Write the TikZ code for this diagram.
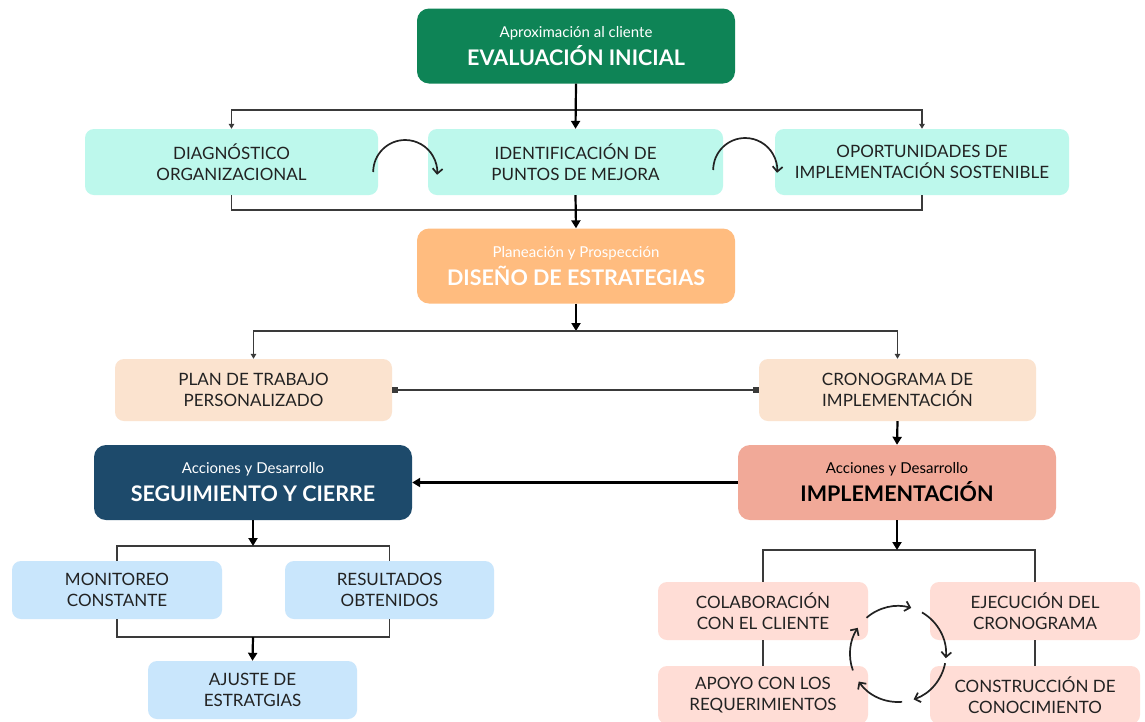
\documentclass[tikz,border=0pt]{standalone}
\usepackage{fontspec}
\setmainfont{Lato}
\usetikzlibrary{arrows.meta,calc}
\definecolor{cgreen}{HTML}{0E8456}
\definecolor{cmint}{HTML}{BDF8EC}
\definecolor{corange}{HTML}{FFBC7F}
\definecolor{cpeach}{HTML}{FBE3CF}
\definecolor{cnavy}{HTML}{1D4A6B}
\definecolor{csalmon}{HTML}{F1A998}
\definecolor{cblue}{HTML}{C9E6FC}
\definecolor{cpink}{HTML}{FFDDD6}
\definecolor{txt}{HTML}{222222}
\definecolor{lin}{HTML}{3A3A3A}
\newcommand{\subttl}[1]{{\fontsize{15}{17}\selectfont #1}}
\begin{document}
\begin{tikzpicture}[x=1pt,y=-1pt,
  box/.style={rectangle,rounded corners=9pt,align=center,inner sep=0pt,text=txt,
    font=\fontsize{17}{21}\selectfont},
  head/.style={rectangle,rounded corners=12pt,align=center,inner sep=0pt,
    minimum width=318pt,minimum height=75pt,font=\fontsize{21.5}{24}\selectfont},
  bigarrow/.style={line width=2.2pt,black,-{Triangle[length=8pt,width=9pt]}},
  smallarrow/.style={line width=1.4pt,lin,-{Triangle[length=5pt,width=5.5pt]}},
  brk/.style={line width=1.8pt,lin},
  cyc/.style={line width=1.7pt,txt,-{Straight Barb[length=5pt,width=10pt,line width=1.7pt]}},
  sq/.style={line width=1.6pt,lin,{Square[length=6pt,width=6pt]}-{Square[length=6pt,width=6pt]}}
]
\useasboundingbox[fill=white] (0,0) rectangle (1145,721);

% headers
\node[head,fill=cgreen,text=white] (eval) at (576,46)
  {\subttl{Aproximación al cliente}\\[4pt]\bfseries EVALUACIÓN INICIAL};
\node[head,fill=corange,text=white] (dis) at (576,266)
  {\subttl{Planeación y Prospección}\\[4pt]\bfseries DISEÑO DE ESTRATEGIAS};
\node[head,fill=cnavy,text=white] (seg) at (253,482.5)
  {\subttl{Acciones y Desarrollo}\\[4pt]\bfseries SEGUIMIENTO Y CIERRE};
\node[head,fill=csalmon,text=black] (impl) at (897,482.5)
  {\subttl{Acciones y Desarrollo}\\[4pt]\bfseries IMPLEMENTACIÓN};

% row 2
\node[box,fill=cmint,minimum width=293pt,minimum height=66pt] (diag) at (231.5,162)
  {DIAGNÓSTICO\\ORGANIZACIONAL};
\node[box,fill=cmint,minimum width=295pt,minimum height=66pt] (ident) at (575.5,162)
  {IDENTIFICACIÓN DE\\PUNTOS DE MEJORA};
\node[box,fill=cmint,minimum width=294pt,minimum height=66pt] (opor) at (922,162)
  {OPORTUNIDADES DE\\IMPLEMENTACIÓN SOSTENIBLE};

% row 4
\node[box,fill=cpeach,minimum width=277pt,minimum height=62pt] (plan) at (253.5,390)
  {PLAN DE TRABAJO\\PERSONALIZADO};
\node[box,fill=cpeach,minimum width=277pt,minimum height=62pt] (crono) at (897.5,390)
  {CRONOGRAMA DE\\IMPLEMENTACIÓN};

% seguimiento children
\node[box,fill=cblue,minimum width=210pt,minimum height=58pt] (moni) at (117,590)
  {MONITOREO\\CONSTANTE};
\node[box,fill=cblue,minimum width=209pt,minimum height=58pt] (resu) at (389.5,590)
  {RESULTADOS\\OBTENIDOS};
\node[box,fill=cblue,minimum width=209pt,minimum height=58pt] (ajus) at (252.5,690)
  {AJUSTE DE\\ESTRATGIAS};

% implementacion children
\node[box,fill=cpink,minimum width=210pt,minimum height=58pt] (colab) at (763,611)
  {COLABORACIÓN\\CON EL CLIENTE};
\node[box,fill=cpink,minimum width=210pt,minimum height=58pt] (ejec) at (1035,611)
  {EJECUCIÓN DEL\\CRONOGRAMA};
\node[box,fill=cpink,minimum width=210pt,minimum height=58pt] (apoyo) at (763,695)
  {APOYO CON LOS\\REQUERIMIENTOS};
\node[box,fill=cpink,minimum width=210pt,minimum height=58pt] (constr) at (1035,695)
  {CONSTRUCCIÓN DE\\CONOCIMIENTO};

% connectors: evaluacion -> row 2
\coordinate (t1) at (576,110);
\draw[smallarrow] (t1) -| (diag.north);
\draw[smallarrow] (t1) -| (opor.north);
\draw[bigarrow] (eval.south) -- (ident.north);
\coordinate (b1) at (576,210);
\draw[brk] (diag.south) |- (b1) -| (opor.south);
\draw[bigarrow] (ident.south) -- (dis.north);

% curved arrows row 2
\draw[cyc] ($(diag.east)+(-5,10)$) arc[start angle=180,end angle=365,radius=32];
\draw[cyc] ($(ident.east)+(-10,8)$) arc[start angle=180,end angle=365,radius=32];

% diseno -> plan / crono
\coordinate (t2) at (576,331);
\draw[bigarrow] (dis.south) -- (t2);
\draw[smallarrow] (t2) -| (plan.north);
\draw[smallarrow] (t2) -| (crono.north);
\draw[sq] (plan.east) -- (crono.west);
\draw[bigarrow] (crono.south) -- (impl.north);
\draw[bigarrow] (impl.west) -- (seg.east);

% seguimiento bracket
\coordinate (t3) at (253,546);
\draw[brk] (moni.north) |- (t3) -| (resu.north);
\draw[bigarrow] (seg.south) -- (t3);
\coordinate (b3) at (253,637);
\draw[brk] (moni.south) |- (b3) -| (resu.south);
\draw[bigarrow] (b3) -- (ajus.north);

% implementacion bracket
\coordinate (t4) at (897,550);
\draw[brk] (colab.north) |- (t4) -| (ejec.north);
\draw[bigarrow] (impl.south) -- (t4);
\draw[brk] (colab.south) -- (apoyo.north);
\draw[brk] (ejec.south) -- (constr.north);

% cycle
\coordinate (cc) at (898,654);
\draw[cyc] (cc) ++(-131:48) arc[start angle=-131,end angle=-74,radius=48];
\draw[cyc] (cc) ++(-60:48) arc[start angle=-60,end angle=5,radius=48];
\draw[cyc] (cc) ++(11:48) arc[start angle=11,end angle=71,radius=48];
\draw[cyc] (cc) ++(85:48) arc[start angle=85,end angle=145,radius=48];
\draw[cyc] (cc) ++(160:48) arc[start angle=160,end angle=213,radius=48];
\end{tikzpicture}
\end{document}
